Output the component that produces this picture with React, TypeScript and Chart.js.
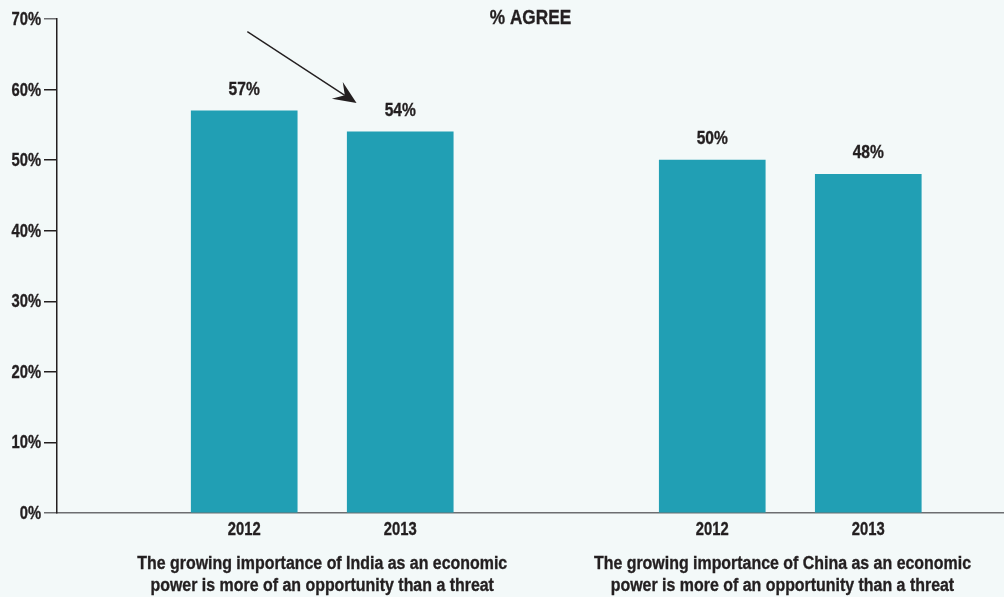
import React, { useEffect, useRef } from "react";
import { Chart, registerables } from "chart.js";

Chart.register(...registerables);

// Survey results: share agreeing with each statement, by year
const yearLabels = ["2012", "2013", "2012", "2013"];
const barPositions = [1, 2, 4, 5];
const agreeValues = [57, 54, 50, 48];

const groupLabelPositions = [1.5, 4.45];
const groupLabels = [
  ["The growing importance of India as an economic", "power is more of an opportunity than a threat"],
  ["The growing importance of China as an economic", "power is more of an opportunity than a threat"],
];

const yTicks = [0, 10, 20, 30, 40, 50, 60, 70];
const chartTitle = "% AGREE";

// Arrow pointing at the decline between India 2012 and 2013 (data coordinates)
const arrowFrom = { x: 1.02, y: 68.2 };
const arrowTo = { x: 1.72, y: 58.1 };

// Arial metrics squeezed horizontally give a narrow grotesque look
const FONT = '"Liberation Sans", Arial, sans-serif';
const NARROW = 0.82;
const NARROW_BODY = 0.885;
const TEXT = "#231f20";
const BAR = "#219fb4";
const BG = "#f3f9f9";

function narrowText(ctx: CanvasRenderingContext2D, text: string, x: number, y: number, sx = NARROW) {
  ctx.save();
  ctx.translate(x, y);
  ctx.scale(sx, 1);
  ctx.fillText(text, 0, 0);
  ctx.strokeText(text, 0, 0);
  ctx.restore();
}

const annotations = {
  id: "annotations",
  afterDatasetsDraw(chart: any) {
    const { ctx, chartArea, scales } = chart;
    const xs = scales.x;
    const ys = scales.y;
    ctx.save();
    ctx.fillStyle = TEXT;
    ctx.strokeStyle = TEXT;
    ctx.lineWidth = 0.35;

    // y tick labels
    ctx.font = `bold 18px ${FONT}`;
    ctx.textAlign = "right";
    ctx.textBaseline = "middle";
    yTicks.forEach((v) => {
      narrowText(ctx, `${v}%`, chartArea.left - 16, ys.getPixelForValue(v) + 1);
    });

    ctx.textAlign = "center";

    // year labels under bars
    yearLabels.forEach((lab, i) => {
      narrowText(ctx, lab, xs.getPixelForValue(barPositions[i]), chartArea.bottom + 17);
    });

    // title
    ctx.font = `bold 21px ${FONT}`;
    narrowText(ctx, chartTitle, (chartArea.left + chartArea.right) / 2, 18);

    // value labels above bars
    ctx.font = `bold 19px ${FONT}`;
    agreeValues.forEach((v, i) => {
      narrowText(ctx, `${v}%`, xs.getPixelForValue(barPositions[i]), ys.getPixelForValue(v) - 21);
    });

    // statement labels under each pair of bars
    ctx.font = `bold 18px ${FONT}`;
    ctx.textBaseline = "alphabetic";
    groupLabels.forEach((lines, gi) => {
      const cx = xs.getPixelForValue(groupLabelPositions[gi]);
      lines.forEach((line, li) => {
        narrowText(ctx, line, cx, 569 + li * 22, NARROW_BODY);
      });
    });

    // arrow
    const x0 = xs.getPixelForValue(arrowFrom.x);
    const y0 = ys.getPixelForValue(arrowFrom.y);
    const x1 = xs.getPixelForValue(arrowTo.x);
    const y1 = ys.getPixelForValue(arrowTo.y);
    const len = Math.hypot(x1 - x0, y1 - y0);
    const ux = (x1 - x0) / len;
    const uy = (y1 - y0) / len;
    const px = -uy;
    const py = ux;
    ctx.lineWidth = 1.4;
    ctx.beginPath();
    ctx.moveTo(x0, y0);
    ctx.lineTo(x1 - ux * 14, y1 - uy * 14);
    ctx.stroke();
    const head = 23;
    const half = 10;
    const notch = 14;
    ctx.beginPath();
    ctx.moveTo(x1, y1);
    ctx.lineTo(x1 - ux * head + px * half, y1 - uy * head + py * half);
    ctx.lineTo(x1 - ux * notch, y1 - uy * notch);
    ctx.lineTo(x1 - ux * head - px * half, y1 - uy * head - py * half);
    ctx.closePath();
    ctx.fill();
    ctx.restore();
  },
};

export default function App() {
  const canvasRef = useRef<HTMLCanvasElement | null>(null);

  useEffect(() => {
    if (!canvasRef.current) return;
    const chart = new Chart(canvasRef.current, {
      type: "bar",
      data: {
        datasets: [
          {
            data: barPositions.map((x, i) => ({ x, y: agreeValues[i] })),
            backgroundColor: BAR,
            barThickness: 106,
            borderWidth: 0,
          },
        ],
      },
      options: {
        animation: false,
        responsive: false,
        layout: { padding: { top: 19, right: 0, bottom: 0, left: 0 } },
        plugins: {
          legend: { display: false },
          tooltip: { enabled: false },
          title: { display: false },
        },
        scales: {
          x: {
            type: "linear",
            offset: false,
            min: -0.2,
            max: 5.87,
            afterBuildTicks: (axis: any) => {
              axis.ticks = barPositions.map((v) => ({ value: v }));
            },
            afterFit: (axis: any) => {
              axis.height = 84;
            },
            grid: { display: false, drawTicks: false },
            border: { display: true, color: "#6d6e71", width: 1.5 },
            ticks: { display: false },
          },
          y: {
            min: 0,
            max: 70,
            afterBuildTicks: (axis: any) => {
              axis.ticks = yTicks.map((v) => ({ value: v }));
            },
            afterFit: (axis: any) => {
              axis.width = 57;
            },
            grid: {
              drawOnChartArea: false,
              drawTicks: true,
              tickLength: 13,
              lineWidth: 1.5,
              color: (c: any) => (c.tick && (c.tick.value === 0 || c.tick.value === 70) ? "#6d6e71" : TEXT),
            },
            border: { display: true, color: TEXT, width: 1.5 },
            ticks: { display: false },
          },
        },
      },
      plugins: [annotations],
    } as any);
    return () => chart.destroy();
  }, []);

  return (
    <div style={{ position: "fixed", left: 0, top: 0, width: 1004, height: 597, background: BG }}>
      <canvas ref={canvasRef} width={1004} height={597} style={{ display: "block" }} />
    </div>
  );
}
